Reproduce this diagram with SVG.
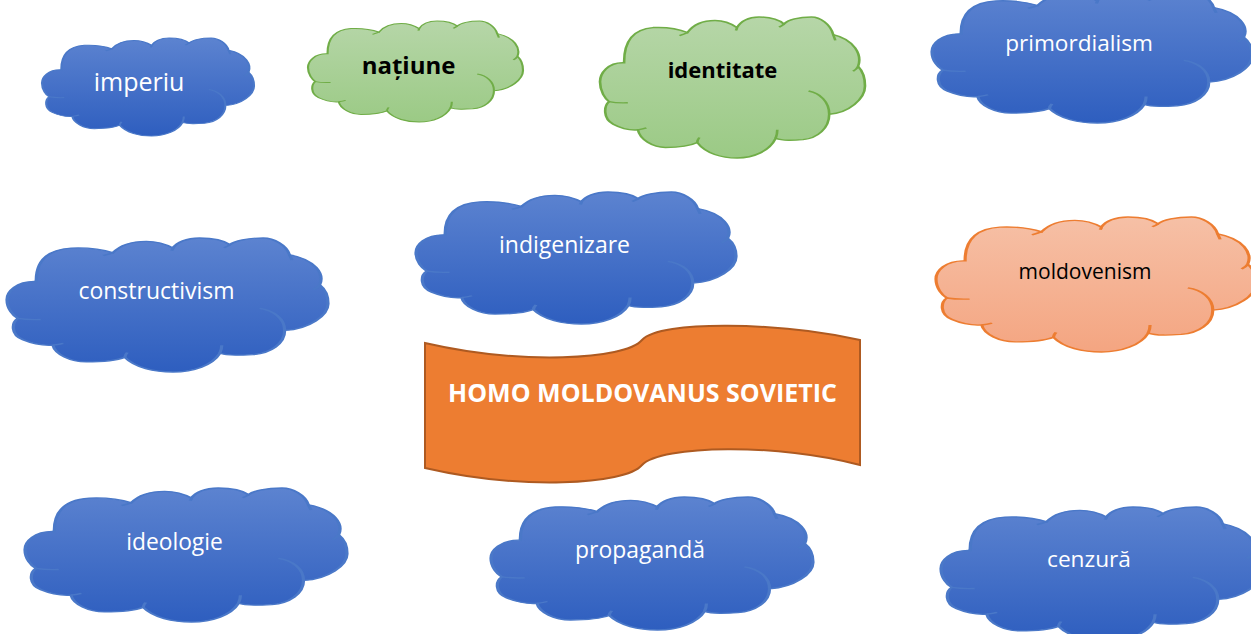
<svg xmlns="http://www.w3.org/2000/svg" xmlns:xlink="http://www.w3.org/1999/xlink" width="1251" height="634" viewBox="0 0 1251 634">
<style>
.lbl{font-family:"Open Sans","Noto Sans","Liberation Sans",sans-serif;text-anchor:middle}
.w{fill:#ffffff}
.k{fill:#000000}
.b{font-weight:bold}
.cl{vector-effect:non-scaling-stroke;stroke-width:1}
.blue{fill:url(#gBlue);stroke:#4a78c8}
.green{fill:url(#gGreen);stroke:#70ad47}
.orange{fill:url(#gOrange);stroke:#ed7d31}
.wr{fill:none;vector-effect:non-scaling-stroke;stroke-width:1}
.wb{stroke:#4a78c8}
.wg{stroke:#70ad47}
.wo{stroke:#ed7d31}
</style>
<defs>
<linearGradient id="gBlue" x1="0" y1="0" x2="0" y2="1"><stop offset="0" stop-color="#5c83d0"/><stop offset="1" stop-color="#2e5ebf"/></linearGradient>
<linearGradient id="gGreen" x1="0" y1="0" x2="0" y2="1"><stop offset="0" stop-color="#b6d6a8"/><stop offset="1" stop-color="#9bca85"/></linearGradient>
<linearGradient id="gOrange" x1="0" y1="0" x2="0" y2="1"><stop offset="0" stop-color="#f6c0a6"/><stop offset="1" stop-color="#f4a581"/></linearGradient>
<path id="cloud" d="M9.1,32.5 C3,32 0,40 0,46 C0,53 2,58 3.4,60 C1.5,63 1,72 5,76 C8,79 11,80.5 14.3,80 C15,87 20,92.5 24.7,92.5 C30,92.5 34,91.5 36.7,89 C40,97 46,100 51.7,100 C58,100 64,95 66.3,86 C69,88 73,87.5 76.6,87 C82,86 86.5,79 86.5,69 C94,68 100,58 100,49 C100,42 99,38 97.4,35 C99,27 96,16 88,12.5 C87,5 83,0 79.8,0 C75,0 71,2 69.4,5 C67,1 63,0 60,0 C56,0 53,3 51.7,7.5 C49,4 46,2.5 43.4,2.5 C38,2.5 35,6 33,11 C29,8 25,7 20,7.5 C13,8.5 9,16 9.1,32.5Z"/>
<path id="wrinkle" d="M3.4,60 C5.5,60.8 8,61 10.5,60.8 M14.3,80 C15.5,79.6 16.5,79.2 17.5,78.6 M36.7,89 C36.8,87.5 37,86.5 37.5,85.5 M66.3,86 C66.7,84 66.9,82 66.9,80 M78.7,52.5 C83,54 86.5,60 86.5,69 M97.4,35 C97,36.5 96.5,37.5 95.5,38.5 M88,12.5 C88.3,14 88.6,15.5 88.8,16.5 M33,11 C32,12 31,12.6 30,13.2 M69.4,5 C68.9,6 68.3,6.6 67.6,7.2 M51.7,7.5 C51.6,8.5 51.5,9 51.3,9.5"/>
</defs>
<rect width="1251" height="634" fill="#ffffff"/>
<g id="connectors"></g>
<g id="node-imperiu">
<use xlink:href="#cloud" class="cl blue" transform="translate(42,38) scale(2.12,0.98)"/>
<use xlink:href="#wrinkle" class="wr wb" transform="translate(42,38) scale(2.12,0.98)"/>
<text class="lbl w" x="139" y="91" font-size="25">imperiu</text>
</g>
<g id="node-natiune">
<use xlink:href="#cloud" class="cl green" transform="translate(308,21) scale(2.15,1.01)"/>
<use xlink:href="#wrinkle" class="wr wg" transform="translate(308,21) scale(2.15,1.01)"/>
<text class="lbl k b" x="408.5" y="74" font-size="24">națiune</text>
</g>
<g id="node-identitate">
<use xlink:href="#cloud" class="cl green" transform="translate(600,17) scale(2.65,1.41)"/>
<use xlink:href="#wrinkle" class="wr wg" transform="translate(600,17) scale(2.65,1.41)"/>
<text class="lbl k b" x="722.5" y="78" font-size="22">identitate</text>
</g>
<g id="node-primordialism">
<use xlink:href="#cloud" class="cl blue" transform="translate(932,-9) scale(3.2,1.32)"/>
<use xlink:href="#wrinkle" class="wr wb" transform="translate(932,-9) scale(3.2,1.32)"/>
<text class="lbl w" x="1079" y="51" font-size="22.6">primordialism</text>
</g>
<g id="node-constructivism">
<use xlink:href="#cloud" class="cl blue" transform="translate(7,238) scale(3.21,1.34)"/>
<use xlink:href="#wrinkle" class="wr wb" transform="translate(7,238) scale(3.21,1.34)"/>
<text class="lbl w" x="156.5" y="299" font-size="23">constructivism</text>
</g>
<g id="node-indigenizare">
<use xlink:href="#cloud" class="cl blue" transform="translate(416,192) scale(3.2,1.32)"/>
<use xlink:href="#wrinkle" class="wr wb" transform="translate(416,192) scale(3.2,1.32)"/>
<text class="lbl w" x="564.5" y="253" font-size="23">indigenizare</text>
</g>
<g id="node-moldovenism">
<use xlink:href="#cloud" class="cl orange" transform="translate(936,217) scale(3.2,1.35)"/>
<use xlink:href="#wrinkle" class="wr wo" transform="translate(936,217) scale(3.2,1.35)"/>
<text class="lbl k" x="1085" y="279" font-size="21">moldovenism</text>
</g>
<g id="node-homo">
<path d="M425,343 C520,365 625,360 642,340 C660,320 780,322 860,340 L860,465 C780,443 660,445 642,465 C625,485 520,490 425,468 Z" fill="#ed7d31" stroke="#ae5a21" stroke-width="2"/>
<text class="lbl w b" x="642.5" y="402" font-size="25">HOMO MOLDOVANUS SOVIETIC</text>
</g>
<g id="node-ideologie">
<use xlink:href="#cloud" class="cl blue" transform="translate(25,488) scale(3.22,1.34)"/>
<use xlink:href="#wrinkle" class="wr wb" transform="translate(25,488) scale(3.22,1.34)"/>
<text class="lbl w" x="174.5" y="550" font-size="22.8">ideologie</text>
</g>
<g id="node-propaganda">
<use xlink:href="#cloud" class="cl blue" transform="translate(491,497) scale(3.22,1.33)"/>
<use xlink:href="#wrinkle" class="wr wb" transform="translate(491,497) scale(3.22,1.33)"/>
<text class="lbl w" x="640" y="558" font-size="22.9">propagandă</text>
</g>
<g id="node-cenzura">
<use xlink:href="#cloud" class="cl blue" transform="translate(941,507) scale(3.2,1.34)"/>
<use xlink:href="#wrinkle" class="wr wb" transform="translate(941,507) scale(3.2,1.34)"/>
<text class="lbl w" x="1089" y="567" font-size="22.7">cenzură</text>
</g>
</svg>
